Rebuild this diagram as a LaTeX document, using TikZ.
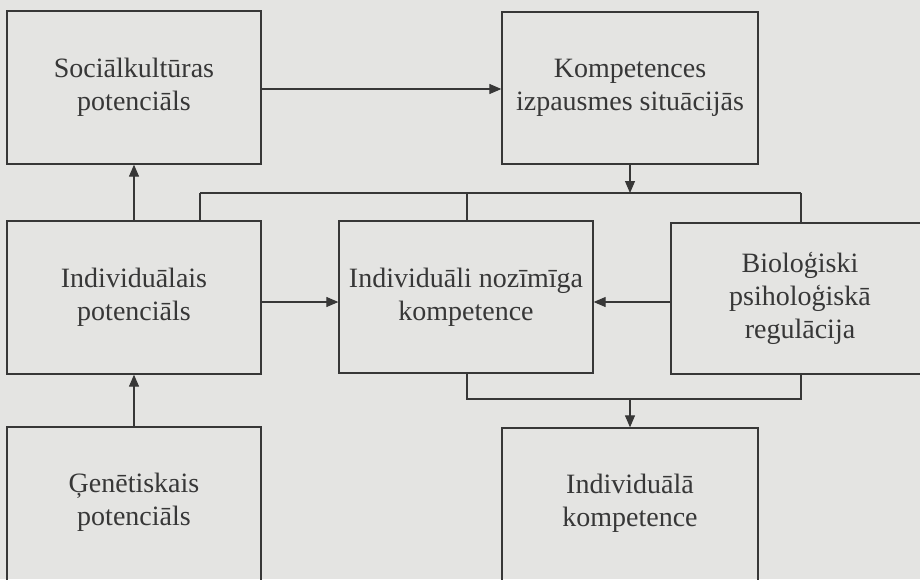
\documentclass[tikz,border=0pt]{standalone}
\usepackage{fontspec}
\setmainfont{Liberation Serif}
\usetikzlibrary{arrows.meta}
\definecolor{paper}{RGB}{228,228,226}
\definecolor{ink}{RGB}{55,55,55}
\begin{document}
\begin{tikzpicture}[x=1pt,y=-1pt,
  box/.style={draw=ink,line width=1.3pt,minimum width=254pt,minimum height=153pt,
    align=center,text=ink,font=\fontsize{28}{33}\selectfont,inner sep=0pt},
  conn/.style={draw=ink,line width=1.1pt},
  arr/.style={conn,-{Triangle[length=12pt,width=10pt]}}]
\fill[paper] (0,0) rectangle (920,579);
\clip (0,0) rectangle (920,579);
\node[box] (A) at (134,87.5) {Sociālkultūras\\potenciāls};
\node[box,minimum width=256pt,minimum height=152pt] (B) at (630,88) {Kompetences\\izpausmes situācijās};
\node[box] (C) at (134,297.5) {Individuālais\\potenciāls};
\node[box,minimum height=152pt] (D) at (466,297) {Individuāli nozīmīga\\kompetence};
\node[box,minimum width=258pt,minimum height=151pt] (F) at (800,298.5) {Bioloģiski\\psiholoģiskā\\regulācija};
\node[box,minimum height=162pt,text depth=17pt] (E) at (134,508) {Ģenētiskais\\potenciāls};
\node[box,minimum width=256pt,minimum height=162pt,text depth=17pt] (G) at (630,509) {Individuālā\\kompetence};
\coordinate (t1) at (200,193);
\coordinate (t2) at (467,193);
\coordinate (t3) at (801,193);
\coordinate (tm) at (630,193);
\coordinate (b1) at (467,399);
\coordinate (b3) at (801,399);
\coordinate (bm) at (630,399);
\coordinate (ry) at (0,302);
\coordinate (ay) at (0,89);
% top
\draw[arr] (A.east |- ay) -- (B.west |- ay);
\draw[arr] (B.south) -- (tm);
\draw[conn] (t1) -- (t3);
\draw[conn] (t1) -- (t1 |- C.north);
\draw[conn] (t2) -- (t2 |- D.north);
\draw[conn] (t3) -- (t3 |- F.north);
% left column
\draw[arr] (C.north) -- (A.south);
\draw[arr] (E.north) -- (C.south);
% middle row
\draw[arr] (C.east |- ry) -- (D.west |- ry);
\draw[arr] (F.west |- ry) -- (D.east |- ry);
% bottom
\draw[conn] (b1 |- D.south) -- (b1) -- (b3) -- (b3 |- F.south);
\draw[arr] (bm) -- (G.north);
\end{tikzpicture}
\end{document}
